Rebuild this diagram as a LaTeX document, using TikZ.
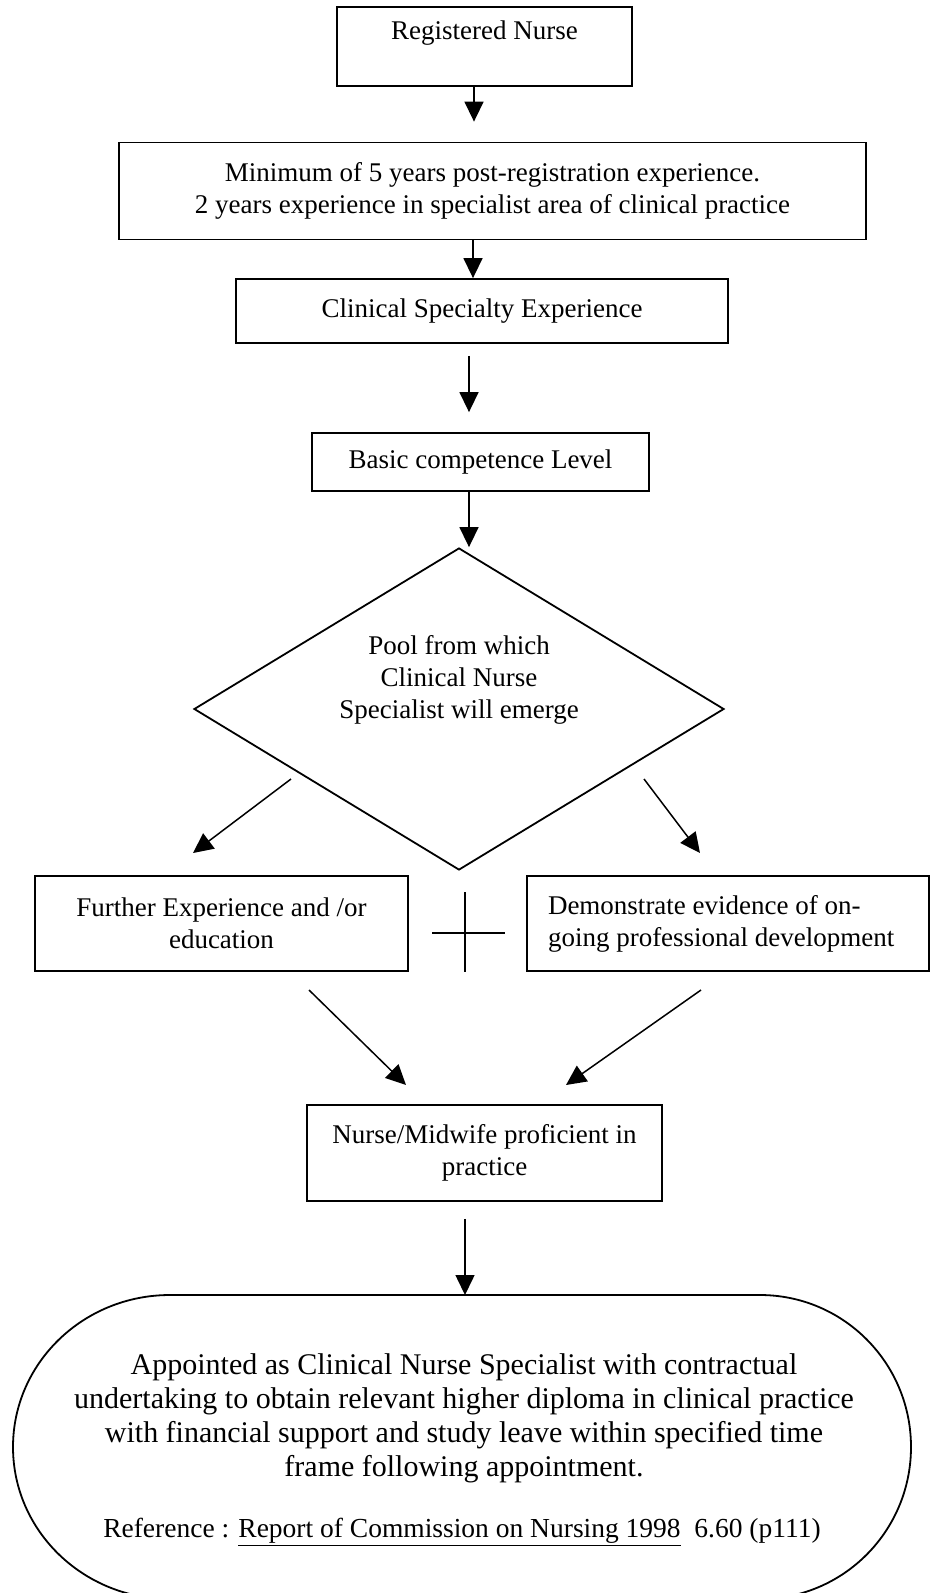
\documentclass[tikz,border=0pt]{standalone}
\usepackage{fontspec}
\setmainfont{Liberation Serif}
\usetikzlibrary{arrows.meta,shapes.geometric}
\tikzset{
  box/.style={draw, line width=1.8pt, rectangle, inner sep=0pt, align=center,
              font=\fontsize{27}{32}\selectfont},
  arr/.style={-{Triangle[length=20pt,width=19pt]}, line width=1.5pt},
  plain/.style={line width=1.5pt},
  txt/.style={inner sep=0pt, align=center, font=\fontsize{27}{32}\selectfont}
}
\begin{document}
\begin{tikzpicture}[x=1pt,y=-1pt]
\useasboundingbox (0,0) rectangle (931,1593);
\clip (0,0) rectangle (931,1593);
\fill[white] (0,0) rectangle (931,1593);

% boxes
\node[box, minimum width=295pt, text height=32pt, text depth=47pt] (n1) at (484.5,46.5) {Registered Nurse};
\node[box, minimum width=747pt, minimum height=97pt] (n2) at (492.5,191)
  {Minimum of 5 years post-registration experience.\\2 years experience in specialist area of clinical practice};
\node[box, minimum width=492pt, minimum height=64pt] (n3) at (482,311) {Clinical Specialty Experience};
\node[box, minimum width=337pt, minimum height=58pt] (n4) at (480.5,462) {Basic competence Level};
\node[draw, diamond, line width=1.8pt, inner sep=0pt, minimum width=530pt, minimum height=322pt] (dia) at (459,709) {};
\node[txt] (pool) at (459,680) {Pool from which\\Clinical Nurse\\Specialist will emerge};
\node[box, minimum width=373pt, minimum height=95pt] (n6) at (221.5,923.5) {Further Experience and /or\\education};
\node[box, minimum width=402pt, minimum height=95pt, text width=360pt, align=flush left] (n7) at (728,923.5)
  {Demonstrate evidence of on-\\going professional development};
\node[box, minimum width=355pt, minimum height=96pt] (n8) at (484.5,1153) {Nurse/Midwife proficient in\\practice};

% final rounded shape
\draw[line width=1.8pt] (170,1295) -- (760,1295)
  arc[start angle=-90, end angle=90, x radius=151, y radius=152]
  -- (170,1599)
  arc[start angle=90, end angle=270, x radius=157, y radius=152] -- cycle;
\node[inner sep=0pt, align=center, font=\fontsize{30}{34}\selectfont] (fin) at (464,1418)
  {Appointed as Clinical Nurse Specialist with contractual\\
   undertaking to obtain relevant higher diploma in clinical practice\\
   with financial support and study leave within specified time\\
   frame following appointment.};
\node[inner sep=0pt, font=\fontsize{27.5}{32}\selectfont] (ref) at (462,1532)
  {Reference : \underline{Report of Commission on Nursing 1998}\ \ 6.60 (p111)};
\coordinate (fintop) at (465,1295);

% vertical arrows
\draw[arr, shorten >=20pt] ([xshift=-10.5pt]n1.south) -- ([xshift=-10.5pt]n1.south |- n2.north);
\draw[arr] ([xshift=-19.5pt]n2.south) -- ([xshift=-19.5pt]n2.south |- n3.north);
\draw[arr, shorten <=12pt, shorten >=20pt] ([xshift=-13pt]n3.south) -- ([xshift=-13pt]n3.south |- n4.north);
\draw[arr] ([xshift=-11.5pt]n4.south) -- ([xshift=-11.5pt]n4.south |- dia.north);

% diagonal arrows
\coordinate (dl1) at (291,779);
\coordinate (dl2) at (193,853);
\coordinate (dr1) at (644,779);
\coordinate (dr2) at (700,853);
\draw[arr] (dl1) -- (dl2);
\draw[arr] (dr1) -- (dr2);
\coordinate (ll1) at (309,990);
\coordinate (ll2) at (406,1085);
\coordinate (lr1) at (701,990);
\coordinate (lr2) at (566,1085);
\draw[arr] (ll1) -- (ll2);
\draw[arr] (lr1) -- (lr2);

% plus sign
\coordinate (pt) at (465,892);
\coordinate (pb) at (465,972);
\coordinate (pl) at (432,933);
\coordinate (pr) at (505,933);
\draw[plain] (pt) -- (pb);
\draw[plain] (pl) -- (pr);

% final arrow
\draw[arr, shorten <=17pt] (n8.south -| fintop) -- (fintop);
\end{tikzpicture}
\end{document}
